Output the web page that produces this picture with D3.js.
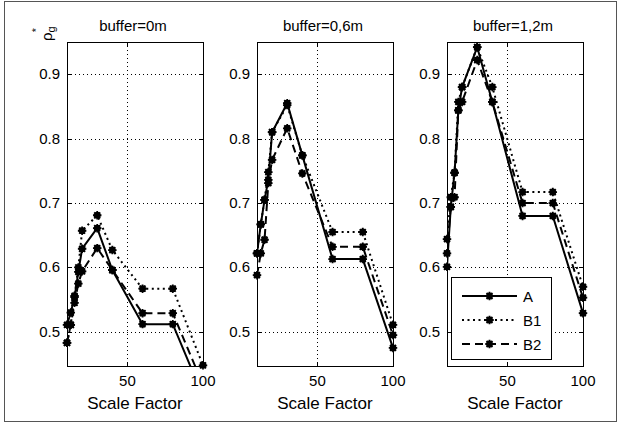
<!DOCTYPE html>
<html>
<head>
<meta charset="utf-8">
<script src="https://cdn.jsdelivr.net/npm/d3@7"></script>
<style>
  body { margin: 0; background: #fff; }
  svg { display: block; font-family: "Liberation Sans", Arial, sans-serif; }
</style>
</head>
<body>
<div id="chart"></div>
<script>
// scale factors sampled along x
const scaleFactors = [10, 12.5, 15, 17.5, 20, 30, 40, 60, 80, 100];
const panelTitles = ["buffer=0m", "buffer=0,6m", "buffer=1,2m"];
const seriesNames = ["A", "B1", "B2"];

// buffer = 0 m
const buf0A  = [0.511, 0.530, 0.554, 0.593, 0.629, 0.661, 0.596, 0.512, 0.512, 0.400];
const buf0B1 = [0.483, 0.511, 0.556, 0.600, 0.657, 0.681, 0.627, 0.567, 0.567, 0.448];
const buf0B2 = [0.483, 0.511, 0.545, 0.575, 0.594, 0.630, 0.596, 0.529, 0.529, 0.418];
// buffer = 0,6 m
const buf06A  = [0.622, 0.667, 0.705, 0.736, 0.810, 0.855, 0.774, 0.613, 0.613, 0.475];
const buf06B1 = [0.622, 0.667, 0.705, 0.748, 0.810, 0.852, 0.774, 0.655, 0.655, 0.511];
const buf06B2 = [0.588, 0.622, 0.643, 0.731, 0.767, 0.816, 0.746, 0.632, 0.632, 0.495];
// buffer = 1,2 m
const buf12A  = [0.601, 0.694, 0.747, 0.844, 0.880, 0.942, 0.857, 0.680, 0.680, 0.529];
const buf12B1 = [0.644, 0.709, 0.747, 0.857, 0.880, 0.942, 0.880, 0.717, 0.717, 0.570];
const buf12B2 = [0.622, 0.694, 0.709, 0.844, 0.857, 0.922, 0.857, 0.700, 0.700, 0.553];

const yTicks = [0.5, 0.6, 0.7, 0.8, 0.9];
const xTicks = [50, 100];

const panels = [
  [buf0A, buf0B1, buf0B2],
  [buf06A, buf06B1, buf06B2],
  [buf12A, buf12B1, buf12B2]
];

const W = 621, H = 423;
const panelLeft = [67, 257, 447];
const panelW = 136;
const plotTop = 42, plotBottom = 366;

const dashes = { A: null, B1: "2,3.5", B2: "8,5" };

const svg = d3.select("#chart").append("svg")
  .attr("width", W).attr("height", H);

// outer frame
svg.append("rect")
  .attr("x", 4.5).attr("y", 1.5)
  .attr("width", 612).attr("height", 420)
  .attr("fill", "none").attr("stroke", "#555").attr("stroke-width", 1);

// filled asterisk-ish marker
const starMark = {
  draw(ctx, size) {
    const r = Math.sqrt(size) / 2;
    ctx.moveTo(2.6, 0);
    ctx.arc(0, 0, 2.6, 0, 2 * Math.PI);
    for (let k = 0; k < 4; k++) {
      const a = k * Math.PI / 4;
      ctx.moveTo(-r * Math.cos(a), -r * Math.sin(a));
      ctx.lineTo(r * Math.cos(a), r * Math.sin(a));
    }
  }
};
const marker = d3.symbol().type(starMark).size(72);

const y = d3.scaleLinear().domain([0.447, 0.95]).range([plotBottom, plotTop]);

panels.forEach((series, pi) => {
  const left = panelLeft[pi];
  const x = d3.scaleLinear().domain([10, 100]).range([left, left + panelW]);
  const g = svg.append("g");

  // grid
  g.selectAll(".gy").data(yTicks).join("line")
    .attr("x1", left).attr("x2", left + panelW)
    .attr("y1", d => Math.round(y(d)) + 0.5).attr("y2", d => Math.round(y(d)) + 0.5)
    .attr("stroke", "#000").attr("stroke-dasharray", "1,3");
  g.selectAll(".gx").data(xTicks).join("line")
    .attr("x1", d => Math.round(x(d)) + 0.5).attr("x2", d => Math.round(x(d)) + 0.5)
    .attr("y1", plotTop).attr("y2", plotBottom)
    .attr("stroke", "#000").attr("stroke-dasharray", "1,3");

  // clip region
  const clipId = "clip" + pi;
  svg.append("clipPath").attr("id", clipId).append("rect")
    .attr("x", left).attr("y", plotTop).attr("width", panelW).attr("height", plotBottom - plotTop);

  const line = d3.line().x((d, i) => x(scaleFactors[i])).y(d => y(d));
  const lg = g.append("g").attr("clip-path", `url(#${clipId})`);
  series.forEach((vals, si) => {
    lg.append("path")
      .attr("d", line(vals))
      .attr("fill", "none").attr("stroke", "#000")
      .attr("stroke-width", 2)
      .attr("stroke-dasharray", dashes[seriesNames[si]]);
  });
  series.forEach(vals => {
    const pts = vals.map((v, i) => [scaleFactors[i], v])
      .filter(p => p[1] >= y.domain()[0] - 1e-9 && p[1] <= y.domain()[1]);
    g.selectAll(null).data(pts).join("path")
      .attr("transform", d => `translate(${x(d[0])},${y(d[1])})`)
      .attr("d", marker)
      .attr("fill", "#000").attr("stroke", "#000").attr("stroke-width", 1.8);
  });

  // box
  g.append("rect")
    .attr("x", left + 0.5).attr("y", plotTop + 0.5)
    .attr("width", panelW).attr("height", plotBottom - plotTop)
    .attr("fill", "none").attr("stroke", "#000").attr("stroke-width", 1);

  // inward ticks
  yTicks.forEach(t => {
    const yy = Math.round(y(t)) + 0.5;
    g.append("line").attr("x1", left).attr("x2", left + 4).attr("y1", yy).attr("y2", yy).attr("stroke", "#000");
    g.append("line").attr("x1", left + panelW - 4).attr("x2", left + panelW).attr("y1", yy).attr("y2", yy).attr("stroke", "#000");
  });
  xTicks.forEach(t => {
    const xx = Math.round(x(t)) + 0.5;
    g.append("line").attr("x1", xx).attr("x2", xx).attr("y1", plotBottom).attr("y2", plotBottom - 4).attr("stroke", "#000");
    g.append("line").attr("x1", xx).attr("x2", xx).attr("y1", plotTop).attr("y2", plotTop + 4).attr("stroke", "#000");
  });

  // tick labels
  g.selectAll(".yl").data(yTicks).join("text")
    .attr("x", left - 7).attr("y", d => y(d) + 5)
    .attr("text-anchor", "end").attr("font-size", 15)
    .text(d => d.toFixed(1));
  g.selectAll(".xl").data(xTicks).join("text")
    .attr("x", d => x(d)).attr("y", 386)
    .attr("text-anchor", "middle").attr("font-size", 15)
    .text(d => d);

  g.append("text")
    .attr("x", left + panelW / 2).attr("y", 409)
    .attr("text-anchor", "middle").attr("font-size", 17)
    .text("Scale Factor");

  g.append("text")
    .attr("x", left + panelW / 2 - 2).attr("y", 31)
    .attr("text-anchor", "middle").attr("font-size", 15)
    .text(panelTitles[pi]);
});

// y label (rho_g^*), rotated so it reads upward
const yl = svg.append("text")
  .attr("transform", "translate(52,41) rotate(-90)")
  .attr("font-size", 15);
yl.append("tspan").text("ρ");
yl.append("tspan").attr("dy", 3).attr("font-size", 11).text("g");
yl.append("tspan").attr("dx", -6).attr("dy", -15).attr("font-size", 11).text("*");

// legend in last panel
const legend = svg.append("g");
legend.append("rect")
  .attr("x", 451.5).attr("y", 277.5).attr("width", 100).attr("height", 82)
  .attr("fill", "#fff").attr("stroke", "#000");
const legY = [296, 320, 344];
seriesNames.forEach((name, i) => {
  legend.append("line")
    .attr("x1", 462).attr("x2", 517).attr("y1", legY[i]).attr("y2", legY[i])
    .attr("stroke", "#000").attr("stroke-width", 2)
    .attr("stroke-dasharray", dashes[name]);
  legend.append("path")
    .attr("transform", `translate(489.5,${legY[i]})`)
    .attr("d", marker).attr("fill", "#000").attr("stroke", "#000").attr("stroke-width", 1.8);
  legend.append("text")
    .attr("x", 523).attr("y", legY[i] + 5.5).attr("font-size", 15)
    .text(name);
});
</script>
</body>
</html>
